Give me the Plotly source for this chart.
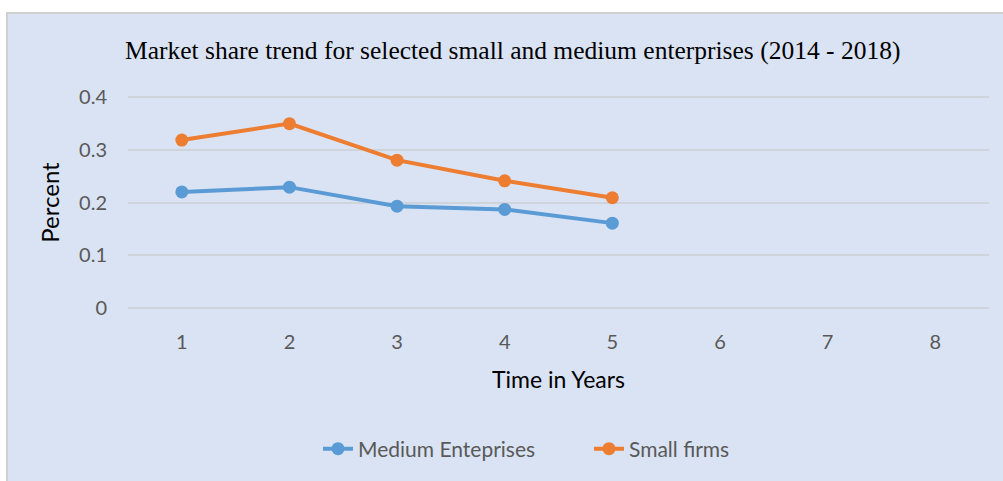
import plotly.graph_objects as go

years = [1, 2, 3, 4, 5]
medium_enterprises = [0.22, 0.229, 0.193, 0.187, 0.161]
small_firms = [0.318, 0.349, 0.28, 0.241, 0.209]
x_ticks = [1, 2, 3, 4, 5, 6, 7, 8]
y_ticks = [0, 0.1, 0.2, 0.3, 0.4]

W, H = 1003, 481
L, R, T, B = 128, 14, 94, 170
pw, ph = W - L - R, H - T - B

def px_x(p):
    return (p - L) / pw

def px_y(p):
    return 1 - (p - T) / ph

BLUE = "#5B9BD5"
ORANGE = "#ED7D31"
BG = "#DAE3F3"

fig = go.Figure()
fig.add_trace(go.Scatter(
    x=years, y=medium_enterprises, name="Medium Enteprises",
    mode="lines+markers",
    line=dict(color=BLUE, width=4),
    marker=dict(color=BLUE, size=13),
))
fig.add_trace(go.Scatter(
    x=years, y=small_firms, name="Small firms",
    mode="lines+markers",
    line=dict(color=ORANGE, width=4),
    marker=dict(color=ORANGE, size=13),
))

# chart area panel with thin grey border on top/left
fig.add_shape(
    type="rect", xref="paper", yref="paper", layer="below",
    x0=px_x(7), x1=px_x(W + 10), y0=px_y(H + 10), y1=px_y(13),
    fillcolor=BG, line=dict(color="#D0D0D0", width=2),
)

fig.add_annotation(
    text="Market share trend for selected small and medium enterprises (2014 - 2018)",
    xref="paper", yref="paper", x=px_x(512), y=px_y(50),
    xanchor="center", yanchor="middle", showarrow=False,
    font=dict(family="Liberation Serif", size=25.5, color="#000000"),
)

fig.update_layout(
    width=W, height=H,
    margin=dict(l=L, r=R, t=T, b=B),
    paper_bgcolor="white",
    plot_bgcolor="rgba(0,0,0,0)",
    showlegend=True,
    legend=dict(
        orientation="h", x=px_x(318), xanchor="left",
        y=px_y(449), yanchor="middle",
        entrywidth=226, entrywidthmode="pixels",
        font=dict(family="Lato", size=21, color="#595959"),
        bgcolor="rgba(0,0,0,0)",
    ),
    xaxis=dict(
        range=[0.5, 8.5], tickmode="array", tickvals=x_ticks,
        showgrid=False, zeroline=False, showline=False, ticks="",
        ticklabelstandoff=17,
        tickfont=dict(family="Lato", size=20, color="#595959"),
        title=dict(text="Time in Years", standoff=19,
                   font=dict(family="Lato", size=23, color="#000000")),
    ),
    yaxis=dict(
        range=[-0.005, 0.405], tickmode="array", tickvals=y_ticks,
        ticktext=["0", "0.1", "0.2", "0.3", "0.4"],
        showgrid=True, gridcolor="#CFD3DA", gridwidth=1.5,
        zeroline=False, showline=False, ticks="",
        ticklabelstandoff=20,
        tickfont=dict(family="Lato", size=20, color="#595959"),
        title=dict(text="Percent", standoff=12,
                   font=dict(family="Lato", size=24, color="#000000")),
    ),
)

fig.write_html("out.html")
